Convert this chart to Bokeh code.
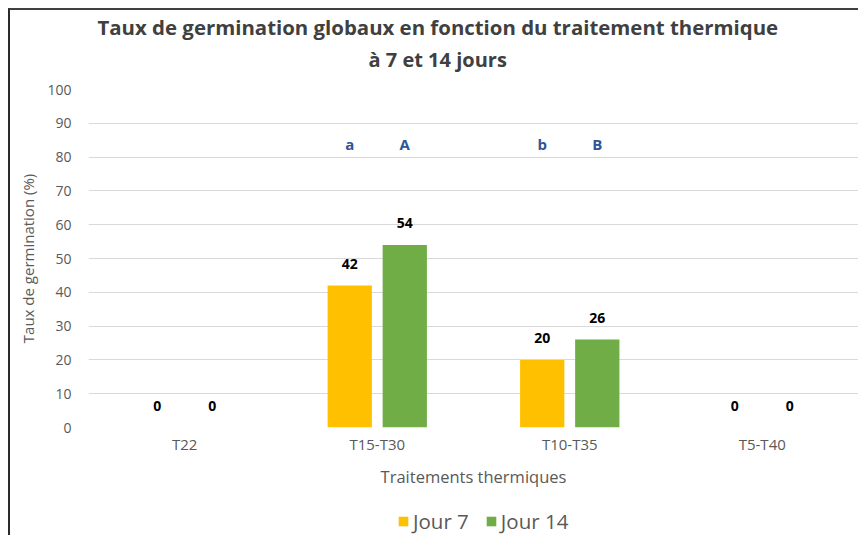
from bokeh.plotting import figure
from bokeh.layouts import column
from bokeh.models import ColumnDataSource, FactorRange, Range1d, Legend, LegendItem, Title, FixedTicker
from bokeh.transform import dodge
from bokeh.core.properties import value
from bokeh.embed import file_html
from bokeh.resources import INLINE

categories = ["T22", "T15-T30", "T10-T35", "T5-T40"]
series_names = ["Jour 7", "Jour 14"]
jour7 = [0, 42, 20, 0]
jour14 = [0, 54, 26, 0]
letters7 = ["", "a", "b", ""]
letters14 = ["", "A", "B", ""]
letter_level = [84, 84, 84, 84]
yticks = [0, 10, 20, 30, 40, 50, 60, 70, 80, 90, 100]

src = ColumnDataSource(dict(
    cat=categories, j7=jour7, j14=jour14,
    l7=letters7, l14=letters14, ly=letter_level,
    t7=[str(v) for v in jour7], t14=[str(v) for v in jour14],
))

FONT = "Open Sans"
GREY = "#595959"
C7, C14 = "#FFC000", "#70AD47"

p = figure(width=848, height=485, x_range=FactorRange(*categories, range_padding=0),
           y_range=Range1d(0, 100), output_backend="svg", toolbar_location=None,
           min_border_left=78, min_border_right=0, min_border_top=79, min_border_bottom=68)
p.outline_line_color = None

off = 0.143
bw = 0.23
p.vbar(x=dodge("cat", -off, range=p.x_range), top="j7", width=bw, source=src,
       fill_color=C7, line_color=None)
p.vbar(x=dodge("cat", off, range=p.x_range), top="j14", width=bw, source=src,
       fill_color=C14, line_color=None)

common = dict(source=src, text_align="center", text_baseline="middle",
              text_font=value(FONT), text_font_style="bold")
p.text(x=dodge("cat", -off, range=p.x_range), y="j7", text="t7", y_offset=-22,
       text_font_size="14px", text_color="#000000", **common)
p.text(x=dodge("cat", off, range=p.x_range), y="j14", text="t14", y_offset=-22,
       text_font_size="14px", text_color="#000000", **common)
p.text(x=dodge("cat", -off, range=p.x_range), y="ly", text="l7",
       text_font_size="15px", text_color="#2F5597", **common)
p.text(x=dodge("cat", off, range=p.x_range), y="ly", text="l14",
       text_font_size="15px", text_color="#2F5597", **common)

# axes
p.yaxis.ticker = FixedTicker(ticks=yticks)
for ax in (p.xaxis[0], p.yaxis[0]):
    ax.axis_line_color = None
    ax.major_tick_line_color = None
    ax.minor_tick_line_color = None
    ax.major_label_text_font = FONT
    ax.major_label_text_color = GREY
    ax.axis_label_text_font = FONT
    ax.axis_label_text_color = GREY
    ax.axis_label_text_font_style = "normal"
p.yaxis.major_label_text_font_size = "14px"
p.xaxis.major_label_text_font_size = "15px"
p.yaxis.major_label_standoff = 11
p.yaxis.axis_label = "Taux de germination (%)"
p.yaxis.axis_label_text_font_size = "15px"
p.yaxis.axis_label_standoff = 6
p.xaxis.axis_label = "Traitements thermiques"
p.xaxis.axis_label_text_font_size = "16.5px"
p.xaxis.major_label_standoff = 0
p.xaxis.axis_label_standoff = 8

p.xgrid.grid_line_color = None
p.ygrid.grid_line_color = "#D9D9D9"
p.ygrid.grid_line_width = 1

spacer = Title(text=" ", text_font_size="1px", standoff=10)
t2 = Title(text="à 7 et 14 jours", align="left", text_font=FONT, text_font_size="20px",
           text_font_style="bold", text_color="#404040", offset=280, standoff=7)
t1 = Title(text="Taux de germination globaux en fonction du traitement thermique", align="left",
           text_font=FONT, text_font_size="20.4px", text_font_style="bold", text_color="#404040",
           offset=9, standoff=0)
p.add_layout(spacer, "above")
p.add_layout(t2, "above")
p.add_layout(t1, "above")

# legend strip below the chart
lf = figure(width=848, height=40, x_range=Range1d(0, 1), y_range=Range1d(0, 1),
            output_backend="svg", toolbar_location=None, x_axis_type=None, y_axis_type=None,
            min_border=0)
lf.outline_line_color = None
lf.xgrid.grid_line_color = None
lf.ygrid.grid_line_color = None
nan = float("nan")
g7 = lf.vbar(x=[nan], top=[nan], width=1, fill_color=C7, line_color=None)
g14 = lf.vbar(x=[nan], top=[nan], width=1, fill_color=C14, line_color=None)
legend = Legend(items=[LegendItem(label=series_names[0], renderers=[g7]),
                       LegendItem(label=series_names[1], renderers=[g14])],
                orientation="horizontal", location=(309, 0),
                label_text_font=FONT, label_text_font_size="20.5px", label_text_color=GREY,
                glyph_width=12, glyph_height=12, spacing=16, label_standoff=4,
                border_line_color=None, background_fill_alpha=0, padding=0, margin=0)
lf.add_layout(legend, "center")

layout = column(p, lf, spacing=0)
layout.styles = {"margin-left": "8px", "margin-top": "8px",
                 "border-left": "2px solid #2b2b2b", "border-top": "2px solid #404040"}

open("out.html", "w").write(file_html(layout, INLINE))
